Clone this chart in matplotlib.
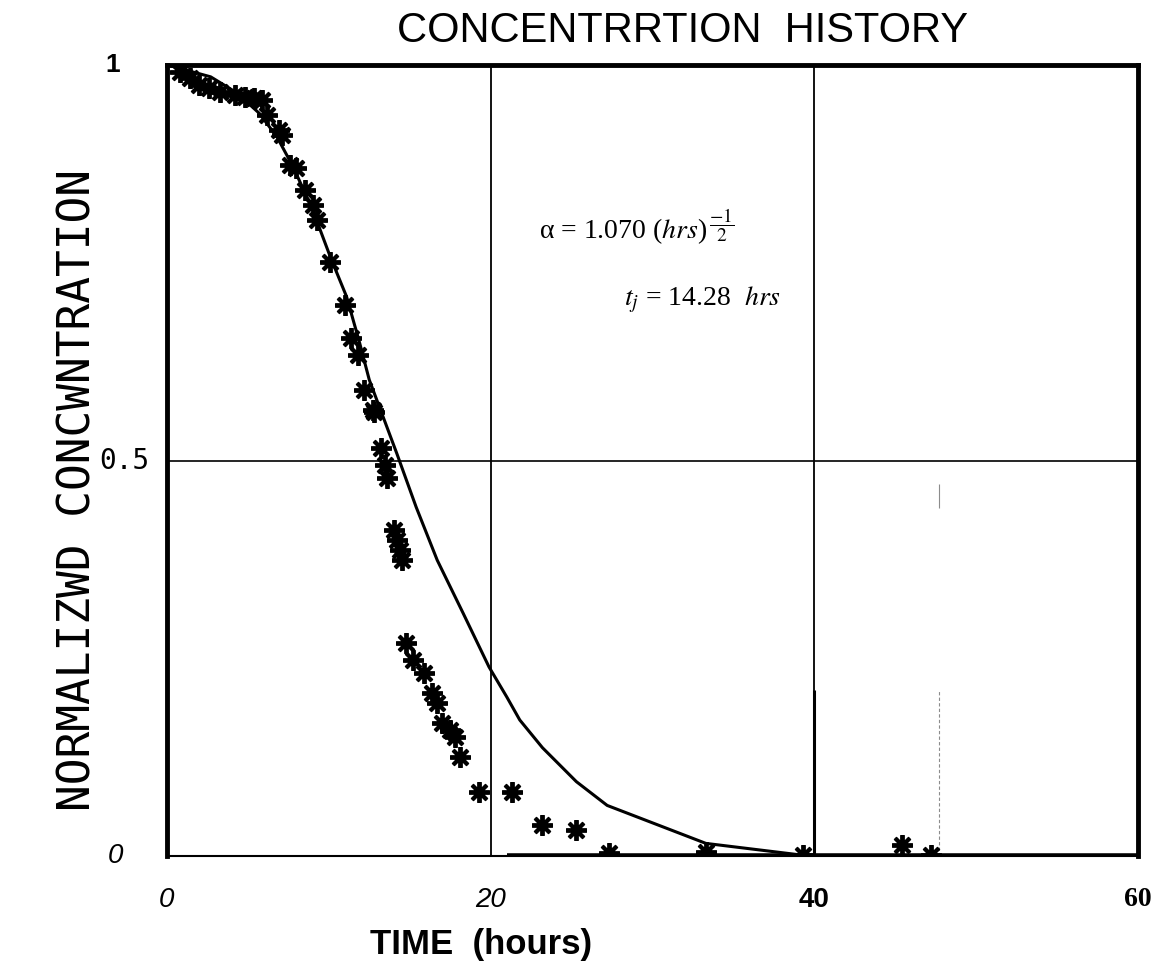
import numpy as np
import matplotlib
matplotlib.use("Agg")
import matplotlib.pyplot as plt
from matplotlib import transforms

# measured data (asterisks)
t_data = [0.8, 1.4, 2.0, 2.6, 3.3, 4.2, 4.8, 5.4, 5.9, 6.2, 6.9, 7.1, 7.6, 8.0,
          8.5, 9.0, 9.3, 10.1, 11.0, 11.4, 11.8, 12.2, 12.7, 12.8, 13.2, 13.5,
          13.6, 14.0, 14.2, 14.4, 14.5, 14.8, 15.2, 15.9, 16.4, 16.7, 17.0,
          17.5, 17.8, 18.1, 19.3, 21.3, 23.2, 25.3, 27.3, 33.3, 39.3, 45.4, 47.2]
c_data = [0.991, 0.984, 0.975, 0.971, 0.966, 0.962, 0.960, 0.958, 0.956, 0.937,
          0.918, 0.912, 0.874, 0.870, 0.842, 0.823, 0.804, 0.751, 0.697, 0.655,
          0.633, 0.589, 0.564, 0.561, 0.516, 0.494, 0.478, 0.412, 0.400, 0.387,
          0.374, 0.269, 0.248, 0.231, 0.206, 0.193, 0.168, 0.159, 0.150, 0.125,
          0.081, 0.081, 0.039, 0.033, 0.004, 0.005, 0.001, 0.014, 0.001]

# model curve
t_model = [0.2, 2.7, 4.3, 5.7, 6.8, 7.8, 9.0, 10.1, 11.1, 11.9, 12.5, 14.2, 15.4,
           16.7, 18.3, 19.9, 21.0, 21.8, 23.2, 25.3, 27.2, 33.3, 39.3, 42.2]
c_model = [0.999, 0.985, 0.965, 0.939, 0.909, 0.871, 0.817, 0.757, 0.707, 0.649,
           0.602, 0.509, 0.441, 0.374, 0.307, 0.239, 0.201, 0.172, 0.137, 0.094,
           0.064, 0.016, 0.001, 0.0]

x_ticks = [0, 20, 40, 60]
x_tick_labels = ["0", "20", "40", "60"]
y_ticks = [0, 0.5, 1]
y_tick_labels = ["0", "0.5", "1"]

plt.rcParams["mathtext.fontset"] = "stix"

fig = plt.figure(figsize=(11.75, 9.74), dpi=100)
ax = fig.add_axes([0.1421, 0.1211, 0.8264, 0.8122])
ax.set_xlim(0, 60)
ax.set_ylim(0, 1)

# grid lines
ax.axvline(20, color="black", lw=1.3)
ax.axvline(40, color="black", lw=1.3)
ax.vlines(40, 0, 0.21, color="black", lw=2.2)
ax.axhline(0.5, color="black", lw=1.2)
# faint scan marks
ax.vlines(47.7, 0, 0.21, color="0.55", lw=0.8, linestyle=(0, (3, 2)))
ax.vlines(47.7, 0.44, 0.47, color="0.55", lw=0.8)
ax.hlines(0, 21, 60, color="black", lw=4)

ax.plot(t_model, c_model, color="black", lw=2.2)
ax.plot(t_data, c_data, linestyle="none", marker=(8, 2, 0), ms=15, mew=2.8,
        color="black")
ax.plot(t_data, c_data, linestyle="none", marker="o", ms=7, color="black")

for side in ["left", "top", "right"]:
    ax.spines[side].set_linewidth(3.5)
ax.spines["bottom"].set_linewidth(1.5)

ax.set_xticks(x_ticks, x_tick_labels)
ax.set_yticks([])
ax.tick_params(axis="x", length=0, pad=22)
xlab = ax.get_xticklabels()
styles = [dict(style="italic", weight="normal", family="Liberation Sans"),
          dict(style="italic", weight="normal", family="Liberation Sans"),
          dict(style="normal", weight="bold", family="Liberation Sans"),
          dict(style="normal", weight="bold", family="Liberation Serif")]
for lab, st in zip(xlab, styles):
    lab.set_fontsize(20)
    lab.set_fontstyle(st["style"])
    lab.set_fontweight(st["weight"])
    lab.set_family(st["family"])

ytr = transforms.blended_transform_factory(ax.transAxes, ax.transData)
ax.text(-0.045, y_ticks[0], y_tick_labels[0], transform=ytr, ha="right",
        va="center", fontsize=20, style="italic", family="Liberation Sans")
ax.text(-0.018, y_ticks[1], y_tick_labels[1], transform=ytr, ha="right",
        va="center", fontsize=20, family="DejaVu Sans Mono")
ax.text(-0.048, y_ticks[2], y_tick_labels[2], transform=ytr, ha="right",
        va="center", fontsize=19, weight="bold", family="Liberation Sans")

fig.text(0.581, 0.968, "CONCENTRRTION  HISTORY", ha="center", va="center",
         fontsize=30, family="Liberation Sans")
fig.text(0.409, 0.03, "TIME  (hours)", ha="center", va="center", fontsize=25,
         weight="bold", family="Liberation Sans")
fig.text(0.066, 0.497, "NORMALIZWD CONCWNTRATION", rotation=90, ha="center",
         va="center", fontsize=32, family="DejaVu Sans Mono")

ax.text(0.383, 0.795, r"α = 1.070 ($\mathit{hrs}$)$^{\,\dfrac{-1}{2}}$",
        transform=ax.transAxes, ha="left", va="center", fontsize=20,
        family="Liberation Serif")
ax.text(0.471, 0.703, r"$t_j$ = 14.28  $\mathit{hrs}$", transform=ax.transAxes,
        ha="left", va="center", fontsize=20, family="Liberation Serif")

fig.savefig("out.png", dpi=100)
